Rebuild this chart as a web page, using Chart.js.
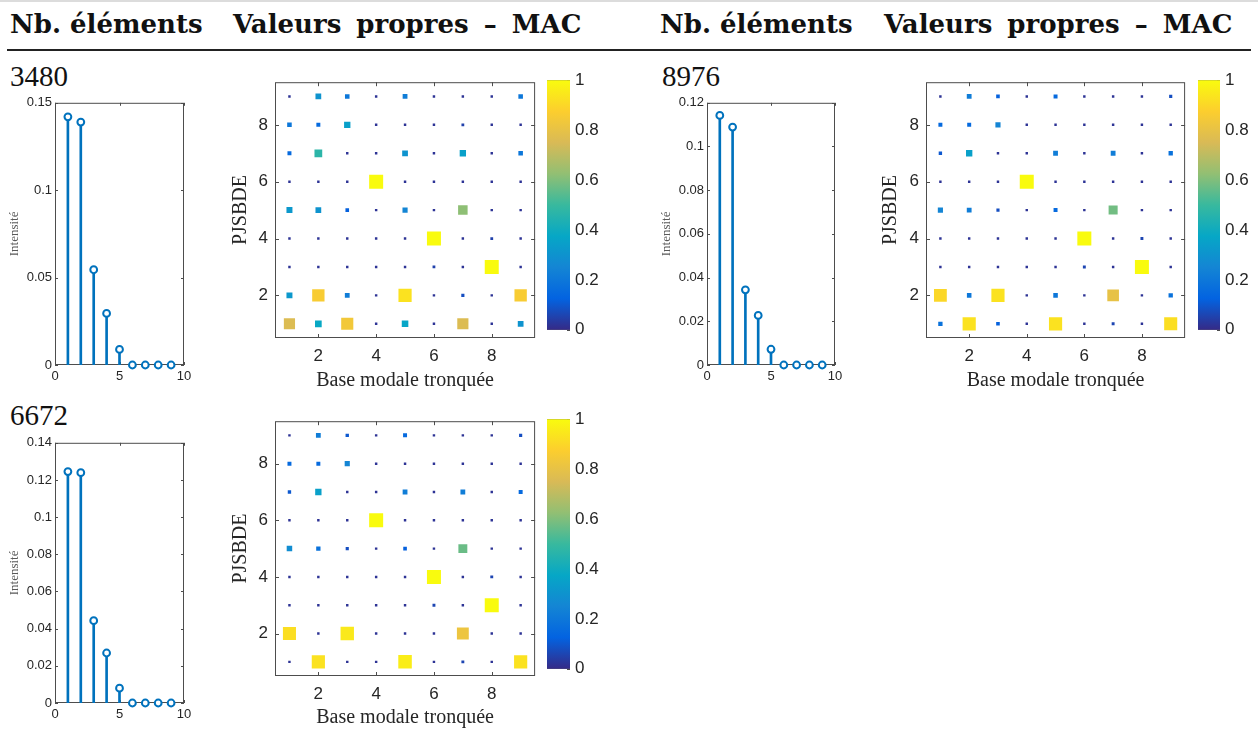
<!DOCTYPE html>
<html lang="fr">
<head>
<meta charset="utf-8">
<title>Valeurs propres – MAC</title>
<script src="https://cdn.jsdelivr.net/npm/chart.js@4.4.1/dist/chart.umd.min.js"></script>
<style>
  html, body { margin: 0; padding: 0; background: #fff; }
  body { position: relative; width: 1258px; height: 735px; overflow: hidden; }
  canvas { position: absolute; }
  .hdr { position: absolute; top: 9px; font: bold 26px "DejaVu Serif", serif; line-height: 30px; color: #111; white-space: nowrap; }
  .hdr.wide { word-spacing: 6px; }
  .nb { position: absolute; font: 29px "Liberation Serif", serif; line-height: 32px; color: #111; }
  .rule { position: absolute; left: 7px; width: 1244px; top: 49px; height: 2px; background: #222; }
  .rule-top { position: absolute; left: 0; width: 1258px; top: 0; height: 2px; background: #dcdcdc; }
</style>
</head>
<body>
<div class="rule-top"></div>
<div class="hdr" style="left:10px">Nb. éléments</div>
<div class="hdr wide" style="left:233px">Valeurs propres – MAC</div>
<div class="hdr" style="left:660px">Nb. éléments</div>
<div class="hdr wide" style="left:884px">Valeurs propres – MAC</div>
<div class="rule"></div>

<div class="nb" style="left:10px;top:60px">3480</div>
<div class="nb" style="left:662px;top:60px">8976</div>
<div class="nb" style="left:10px;top:399px">6672</div>

<canvas id="stem3480"></canvas>
<canvas id="mac3480"></canvas>
<canvas id="cbar3480"></canvas>
<canvas id="stem8976"></canvas>
<canvas id="mac8976"></canvas>
<canvas id="cbar8976"></canvas>
<canvas id="stem6672"></canvas>
<canvas id="mac6672"></canvas>
<canvas id="cbar6672"></canvas>

<script>
const modes = [1, 2, 3, 4, 5, 6, 7, 8, 9];

// intensité des valeurs propres
const intens3480 = [0.142, 0.139, 0.0545, 0.0295, 0.0089, 0, 0, 0, 0];
const intens8976 = [0.1142, 0.1089, 0.0344, 0.0227, 0.0072, 0, 0, 0, 0];
const intens6672 = [0.1245, 0.1239, 0.0443, 0.0269, 0.0080, 0, 0, 0, 0];

const stemXTicks = [0, 5, 10];
const stemYTicks3480 = [0, 0.05, 0.1, 0.15];
const stemYTicks8976 = [0, 0.02, 0.04, 0.06, 0.08, 0.1, 0.12];
const stemYTicks6672 = [0, 0.02, 0.04, 0.06, 0.08, 0.1, 0.12, 0.14];

const macTicks = [2, 4, 6, 8];
const cbarTicks = [0, 0.2, 0.4, 0.6, 0.8, 1];

// MAC : première ligne = PJSBDE 9 (haut), dernière = PJSBDE 1 (bas)
const mac3480 = [
  [0.02, 0.30, 0.20, 0.02, 0.22, 0.02, 0.02, 0.02, 0.20],
  [0.20, 0.15, 0.35, 0.02, 0.02, 0.02, 0.05, 0.02, 0.02],
  [0.15, 0.47, 0.02, 0.02, 0.30, 0.02, 0.35, 0.02, 0.20],
  [0.02, 0.02, 0.02, 1.00, 0.02, 0.02, 0.02, 0.02, 0.02],
  [0.32, 0.30, 0.12, 0.02, 0.25, 0.02, 0.62, 0.02, 0.02],
  [0.02, 0.02, 0.02, 0.02, 0.02, 1.00, 0.02, 0.05, 0.02],
  [0.02, 0.02, 0.02, 0.02, 0.02, 0.05, 0.02, 1.00, 0.02],
  [0.32, 0.86, 0.22, 0.02, 0.93, 0.02, 0.08, 0.02, 0.86],
  [0.76, 0.38, 0.84, 0.02, 0.37, 0.02, 0.76, 0.02, 0.30]
];
const mac8976 = [
  [0.02, 0.22, 0.12, 0.02, 0.15, 0.02, 0.02, 0.02, 0.08],
  [0.15, 0.15, 0.25, 0.02, 0.02, 0.02, 0.02, 0.02, 0.02],
  [0.10, 0.35, 0.02, 0.02, 0.22, 0.02, 0.22, 0.02, 0.18],
  [0.02, 0.02, 0.02, 1.00, 0.02, 0.02, 0.02, 0.02, 0.02],
  [0.25, 0.22, 0.08, 0.02, 0.15, 0.02, 0.58, 0.02, 0.02],
  [0.02, 0.02, 0.02, 0.02, 0.02, 1.00, 0.02, 0.06, 0.02],
  [0.02, 0.02, 0.02, 0.02, 0.02, 0.06, 0.02, 1.00, 0.02],
  [0.90, 0.20, 0.93, 0.02, 0.20, 0.02, 0.80, 0.02, 0.18],
  [0.18, 0.93, 0.12, 0.02, 0.93, 0.02, 0.06, 0.02, 0.92]
];
const mac6672 = [
  [0.02, 0.22, 0.10, 0.02, 0.15, 0.02, 0.02, 0.02, 0.08],
  [0.15, 0.15, 0.25, 0.02, 0.02, 0.02, 0.02, 0.02, 0.02],
  [0.10, 0.35, 0.02, 0.02, 0.22, 0.02, 0.22, 0.02, 0.15],
  [0.02, 0.02, 0.02, 1.00, 0.02, 0.02, 0.02, 0.02, 0.02],
  [0.28, 0.18, 0.08, 0.02, 0.12, 0.02, 0.57, 0.02, 0.02],
  [0.02, 0.02, 0.02, 0.02, 0.02, 1.00, 0.02, 0.06, 0.02],
  [0.02, 0.02, 0.02, 0.02, 0.02, 0.06, 0.02, 1.00, 0.02],
  [0.92, 0.02, 0.95, 0.02, 0.02, 0.02, 0.82, 0.02, 0.02],
  [0.02, 0.93, 0.02, 0.02, 0.96, 0.02, 0.06, 0.02, 0.93]
];

const stemBlue = '#0072bd';
const parulaStops = ['#352a87', '#0363e1', '#1485d4', '#06a7c6', '#38b99e', '#92bf73', '#d9ba56', '#fcce2e', '#f9fb0e'];

Chart.defaults.font.family = '"Liberation Sans", Arial, sans-serif';
Chart.defaults.color = '#262626';

function hexRgb(h) {
  return [1, 3, 5].map(i => parseInt(h.substr(i, 2), 16));
}
function parula(v) {
  v = Math.min(1, Math.max(0, v));
  let p = v * (parulaStops.length - 1);
  let i = Math.min(Math.floor(p), parulaStops.length - 2);
  let t = p - i;
  let a = hexRgb(parulaStops[i]), b = hexRgb(parulaStops[i + 1]);
  return 'rgb(' + a.map((c, k) => Math.round(c + (b[k] - c) * t)).join(',') + ')';
}
function fmt(v) {
  return String(+Number(v).toFixed(4));
}

// cadre + graduations vers l'intérieur, façon MATLAB
const boxTicks = {
  id: 'boxTicks',
  beforeDatasetsDraw(chart, args, opts) {
    let a = chart.chartArea;
    let ctx = chart.ctx;
    let len = opts.len || 4;
    ctx.save();
    ctx.strokeStyle = '#4d4d4d';
    ctx.lineWidth = 1;
    ctx.beginPath();
    if (opts.x) {
      for (let t of chart.scales.x.ticks) {
        let px = Math.round(chart.scales.x.getPixelForValue(t.value)) + 0.5;
        ctx.moveTo(px, a.bottom); ctx.lineTo(px, a.bottom - len);
        ctx.moveTo(px, a.top); ctx.lineTo(px, a.top + len);
      }
    }
    if (opts.y) {
      for (let t of chart.scales.y.ticks) {
        let py = Math.round(chart.scales.y.getPixelForValue(t.value)) + 0.5;
        if (opts.y !== 'right') { ctx.moveTo(a.left, py); ctx.lineTo(a.left + len, py); }
        ctx.moveTo(a.right, py); ctx.lineTo(a.right - len, py);
      }
    }
    ctx.stroke();
    ctx.strokeRect(a.left + 0.5, a.top + 0.5, a.right - a.left - 1, a.bottom - a.top - 1);
    ctx.restore();
  }
};

function setupCanvas(id, cv) {
  let el = document.getElementById(id);
  el.width = cv.w;
  el.height = cv.h;
  el.style.left = cv.l + 'px';
  el.style.top = cv.t + 'px';
  return el.getContext('2d');
}

function stemChart(id, cv, plot, values, yTicks) {
  let yw = 48, xh = 22;
  let ctx = setupCanvas(id, cv);
  let pts = modes.map((m, i) => ({x: m, y: values[i]}));
  new Chart(ctx, {
    type: 'scatter',
    data: {
      datasets: [
        {type: 'scatter', data: pts, pointStyle: 'circle', pointRadius: 3.4, borderWidth: 2,
         borderColor: stemBlue, backgroundColor: '#fff', clip: false, order: 0},
        {type: 'bar', data: pts, backgroundColor: stemBlue, barThickness: 2, borderWidth: 0, order: 1}
      ]
    },
    options: {
      responsive: false,
      animation: false,
      events: [],
      layout: {padding: {left: plot.x0 - cv.l - yw, top: plot.y0 - cv.t, right: cv.l + cv.w - plot.x1, bottom: cv.t + cv.h - plot.y1 - xh}},
      plugins: {legend: {display: false}, tooltip: {enabled: false}, boxTicks: {x: true, y: true, len: 3}},
      scales: {
        x: {
          type: 'linear', min: 0, max: 10, offset: false,
          grid: {display: false, drawTicks: false}, border: {display: false},
          ticks: {font: {size: 13}, padding: 4, callback: fmt},
          afterBuildTicks: s => { s.ticks = stemXTicks.map(v => ({value: v})); },
          afterFit: s => { s.height = xh; }
        },
        y: {
          type: 'linear', min: 0, max: yTicks[yTicks.length - 1],
          grid: {display: false, drawTicks: false}, border: {display: false},
          ticks: {font: {size: 13}, padding: 3, callback: fmt},
          title: {display: true, text: 'Intensité', color: '#595959', padding: 0,
                  font: {family: '"Liberation Serif", serif', size: 13}},
          afterBuildTicks: s => { s.ticks = yTicks.map(v => ({value: v})); },
          afterFit: s => { s.width = yw; }
        }
      }
    },
    plugins: [boxTicks]
  });
}

function macChart(id, cv, plot, mat, yw, xh) {
  let ctx = setupCanvas(id, cv);
  let pts = [];
  mat.forEach((row, r) => row.forEach((v, c) => pts.push({x: c + 1, y: mat.length - r, v: v})));
  new Chart(ctx, {
    type: 'scatter',
    data: {
      datasets: [{
        data: pts,
        pointStyle: 'rect',
        borderWidth: 0,
        pointRadius: c => c.raw ? (2.2 + 11.8 * c.raw.v) / Math.SQRT2 : 2,
        backgroundColor: c => c.raw ? parula(c.raw.v) : '#000'
      }]
    },
    options: {
      responsive: false,
      animation: false,
      events: [],
      layout: {padding: {left: plot.x0 - cv.l - yw, top: plot.y0 - cv.t, right: cv.l + cv.w - plot.x1, bottom: cv.t + cv.h - plot.y1 - xh}},
      plugins: {legend: {display: false}, tooltip: {enabled: false}, boxTicks: {x: true, y: true, len: 4}},
      scales: {
        x: {
          type: 'linear', min: 0.5, max: 9.5, offset: false,
          grid: {display: false, drawTicks: false}, border: {display: false},
          ticks: {font: {size: 17}, padding: 8, callback: fmt},
          title: {display: true, text: 'Base modale tronquée', color: '#262626', padding: 0,
                  font: {family: '"Liberation Serif", serif', size: 20}},
          afterBuildTicks: s => { s.ticks = macTicks.map(v => ({value: v})); },
          afterFit: s => { s.height = xh; }
        },
        y: {
          type: 'linear', min: 0.5, max: 9.5,
          grid: {display: false, drawTicks: false}, border: {display: false},
          ticks: {font: {size: 17}, padding: 7, callback: fmt},
          title: {display: true, text: 'PJSBDE', color: '#262626', padding: 0,
                  font: {family: '"Liberation Serif", serif', size: 20}},
          afterBuildTicks: s => { s.ticks = macTicks.map(v => ({value: v})); },
          afterFit: s => { s.width = yw; }
        }
      }
    },
    plugins: [boxTicks]
  });
}

function colorbar(id, cv, plot, yw) {
  let ctx = setupCanvas(id, cv);
  new Chart(ctx, {
    type: 'bar',
    data: {
      labels: [''],
      datasets: [{
        data: [[0, 1]],
        borderWidth: 0,
        barPercentage: 1,
        categoryPercentage: 1,
        backgroundColor: c => {
          let a = c.chart.chartArea;
          if (!a) return '#888';
          let g = c.chart.ctx.createLinearGradient(0, a.bottom, 0, a.top);
          parulaStops.forEach((s, i) => g.addColorStop(i / (parulaStops.length - 1), s));
          return g;
        }
      }]
    },
    options: {
      responsive: false,
      animation: false,
      events: [],
      layout: {padding: {left: plot.x0 - cv.l, top: plot.y0 - cv.t, right: cv.l + cv.w - plot.x1 - yw, bottom: cv.t + cv.h - plot.y1}},
      plugins: {legend: {display: false}, tooltip: {enabled: false}, boxTicks: {x: false, y: 'right', len: 3}},
      scales: {
        x: {display: false},
        y: {
          position: 'right', min: 0, max: 1,
          grid: {display: false, drawTicks: false}, border: {display: false},
          ticks: {font: {size: 17}, padding: 5, callback: fmt},
          afterBuildTicks: s => { s.ticks = cbarTicks.map(v => ({value: v})); },
          afterFit: s => { s.width = yw; }
        }
      }
    },
    plugins: [boxTicks]
  });
}

stemChart('stem3480', {l: 0, t: 92, w: 200, h: 300}, {x0: 55, y0: 102, x1: 184, y1: 365}, intens3480, stemYTicks3480);
macChart('mac3480', {l: 220, t: 65, w: 325, h: 340}, {x0: 275, y0: 75, x1: 536, y1: 338}, mac3480, 46, 55);
colorbar('cbar3480', {l: 540, t: 65, w: 75, h: 280}, {x0: 547, y0: 75, x1: 570, y1: 338}, 45);

stemChart('stem8976', {l: 658, t: 92, w: 197, h: 300}, {x0: 707, y0: 102, x1: 835, y1: 365}, intens8976, stemYTicks8976);
macChart('mac8976', {l: 870, t: 65, w: 325, h: 340}, {x0: 926, y0: 75, x1: 1187, y1: 338}, mac8976, 47, 55);
colorbar('cbar8976', {l: 1190, t: 65, w: 68, h: 280}, {x0: 1198, y0: 75, x1: 1220, y1: 338}, 38);

stemChart('stem6672', {l: 0, t: 432, w: 200, h: 300}, {x0: 55, y0: 442, x1: 184, y1: 703}, intens6672, stemYTicks6672);
macChart('mac6672', {l: 220, t: 404, w: 325, h: 331}, {x0: 275, y0: 414, x1: 537, y1: 676}, mac6672, 46, 54);
colorbar('cbar6672', {l: 540, t: 404, w: 75, h: 280}, {x0: 547, y0: 414, x1: 570, y1: 676}, 45);
</script>
</body>
</html>
